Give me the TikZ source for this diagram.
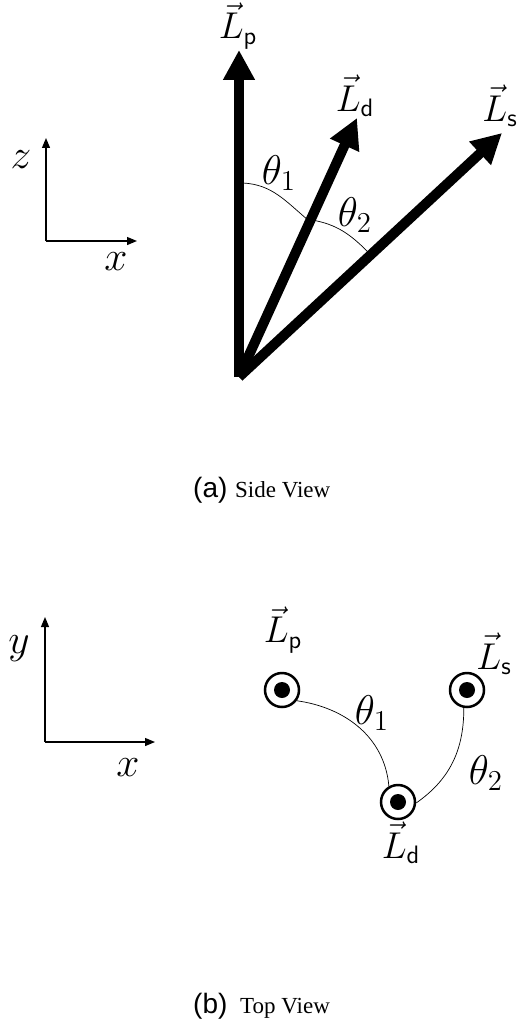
\documentclass[tikz,border=0pt]{standalone}
\usepackage{graphicx}
\usepackage{fontspec}
\newfontfamily\capsans{Liberation Sans}
\newfontfamily\capserif{Liberation Serif}
\usetikzlibrary{arrows.meta}
\newcommand{\Lv}[1]{\scalebox{1.8}{$\vec{L}_{\mathsf{#1}}$}}
\newcommand{\Th}[1]{\scalebox{2}{$\theta_{#1}$}}
\newcommand{\Ax}[1]{\scalebox{2}{$#1$}}

\tikzset{
  bigvec/.style={line width=10pt,-{Triangle[length=30pt,width=30pt]}},
  axisvec/.style={line width=1.2pt,-{Triangle[length=10pt,width=8pt]}},
  anglearc/.style={line width=0.7pt},
  lab/.style={font=\fontsize{20}{24}\selectfont, inner sep=0pt},
  spin/.style={circle, draw, line width=2.5pt, minimum size=34pt, inner sep=0pt,
    path picture={\fill (path picture bounding box.center) circle (8pt);}},
}

\begin{document}
\begin{tikzpicture}[x=1pt,y=1pt]
  \useasboundingbox (0,0) rectangle (520,-1027);

  % (a) side view
  \coordinate (zo) at (46,-241);
  \coordinate (zt) at (46,-138);
  \coordinate (zx) at (137,-241);
  \draw[axisvec] (zo) -- (zt);
  \draw[axisvec] (zo) -- (zx);
  \node[lab] (zlab) at (21,-160) {\Ax{z}};
  \node[lab] (xlab1) at (116,-262) {\Ax{x}};

  \coordinate (o) at (239,-377);
  \coordinate (lp) at (239,-50);
  \coordinate (ld) at (357,-118);
  \coordinate (ls) at (502,-133);
  \coordinate (a1) at (243,-183);
  \coordinate (b1) at (308,-220);
  \coordinate (a2) at (312,-220);
  \coordinate (b2) at (368,-252);
  \draw[anglearc] (a1) to[out=-3,in=140] (b1);
  \draw[anglearc] (a2) to[out=-10,in=135] (b2);
  \draw[bigvec] (o) -- (lp);
  \draw[bigvec] (o) -- (ld);
  \draw[bigvec] (o) -- (ls);
  \node[lab] (nlp) at (238,-26) {\Lv{p}};
  \node[lab] (nld) at (355,-96) {\Lv{d}};
  \node[lab] (nls) at (500,-106) {\Lv{s}};
  \node[lab] (th1) at (279,-173) {\Th{1}};
  \node[lab] (th2) at (355,-215) {\Th{2}};

  \node[anchor=base west, inner sep=0pt] (capa) at (193,-497) {\capsans\fontsize{28}{32}\selectfont (a)};
  \node[anchor=base west, inner sep=0pt] (capatxt) at (235,-497) {\capserif\fontsize{23}{28}\selectfont Side View};

  % (b) top view
  \coordinate (yo) at (45,-742);
  \coordinate (yt) at (45,-617);
  \coordinate (yx) at (155,-742);
  \draw[axisvec] (yo) -- (yt);
  \draw[axisvec] (yo) -- (yx);
  \node[lab] (ylab) at (19,-649) {\Ax{y}};
  \node[lab] (xlab2) at (128,-768) {\Ax{x}};

  \node[spin] (tp) at (282,-690) {};
  \node[spin] (ts) at (467,-690) {};
  \node[spin] (td) at (398,-802) {};
  \draw[anglearc] (tp.-36) to[out=-8,in=95] (td.120);
  \draw[anglearc] (ts.-100) to[out=-90,in=35] (td.-3);
  \node[lab] (tlp) at (283,-630) {\Lv{p}};
  \node[lab] (tls) at (494,-654) {\Lv{s}};
  \node[lab] (tld) at (401,-843) {\Lv{d}};
  \node[lab] (tth1) at (372,-713) {\Th{1}};
  \node[lab] (tth2) at (486,-773) {\Th{2}};

  \node[anchor=base west, inner sep=0pt] (capb) at (193,-1013) {\capsans\fontsize{28}{32}\selectfont (b)};
  \node[anchor=base west, inner sep=0pt] (capbtxt) at (240,-1013) {\capserif\fontsize{23}{28}\selectfont Top View};
\end{tikzpicture}
\end{document}
